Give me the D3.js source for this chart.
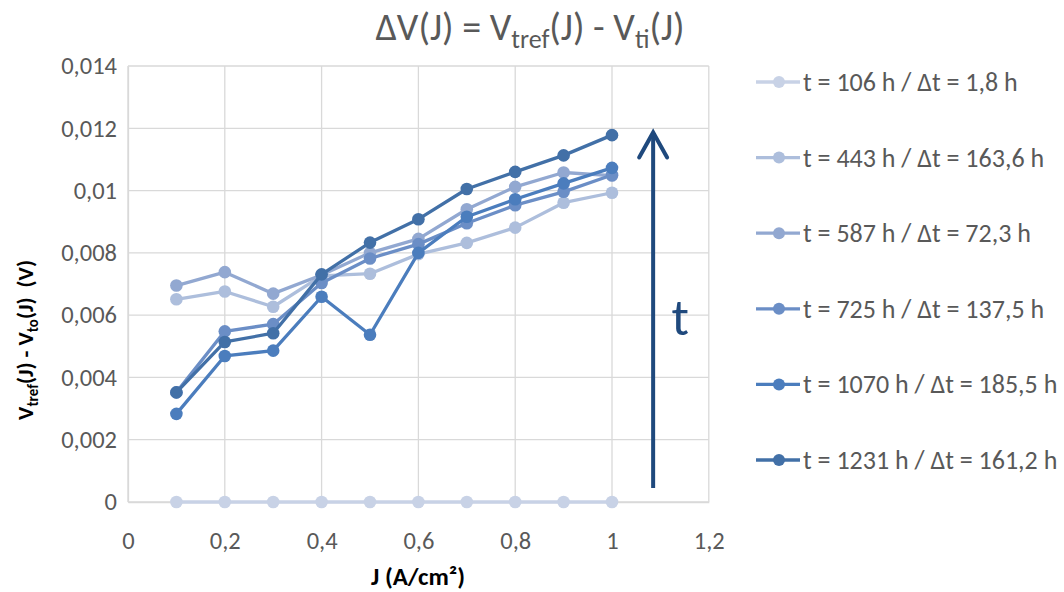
<!DOCTYPE html>
<html><head><meta charset="utf-8">
<script src="https://cdn.jsdelivr.net/npm/d3@7"></script>
<style>body{margin:0;background:#fff;font-family:Calibri,Carlito,"Liberation Sans",Arial,sans-serif;}</style>
</head><body><svg id="c" width="1064" height="592"></svg>
<script>
const J = [0.1,0.2,0.3,0.4,0.5,0.6,0.7,0.8,0.9,1.0];
const seriesNames = ["t = 106 h / Δt = 1,8 h","t = 443 h / Δt = 163,6 h","t = 587 h / Δt = 72,3 h","t = 725 h / Δt = 137,5 h","t = 1070 h / Δt = 185,5 h","t = 1231 h / Δt = 161,2 h"];
const s106  = [0,0,0,0,0,0,0,0,0,0];
const s443  = [0.00651,0.00676,0.00627,0.00726,0.00733,0.00796,0.00832,0.00881,0.00961,0.00993];
const s587  = [0.00695,0.00738,0.00669,0.00729,0.00800,0.00845,0.00940,0.01012,0.01058,0.01048];
const s725  = [0.00352,0.00548,0.00571,0.00703,0.00782,0.00828,0.00895,0.00953,0.00996,0.01050];
const s1070 = [0.00283,0.00469,0.00486,0.00659,0.00537,0.00800,0.00916,0.00972,0.01023,0.01073];
const s1231 = [0.00352,0.00514,0.00542,0.00731,0.00833,0.00908,0.01005,0.01060,0.01113,0.01178];
const colors = ["#c8d2e6","#adbedc","#92a8d1","#6b8ec6","#4b7dbd","#4270a7"];
const xTicks = [0,0.2,0.4,0.6,0.8,1.0,1.2];
const yTicks = [0,0.002,0.004,0.006,0.008,0.01,0.012,0.014];
const allSeries = [s106,s443,s587,s725,s1070,s1231];

const FONT = "Calibri,Carlito,'Liberation Sans',sans-serif";
const svg = d3.select("#c");
const x = d3.scaleLinear().domain([0,1.2]).range([128,708.8]);
const y = d3.scaleLinear().domain([0,0.014]).range([502,66]);
const fmt = v => String(+v.toFixed(3)).replace(".",",");

// grid
svg.append("g").selectAll("line").data(yTicks).join("line")
  .attr("x1",x(0)).attr("x2",x(1.2)).attr("y1",d=>y(d)).attr("y2",d=>y(d))
  .attr("stroke","#d9d9d9").attr("stroke-width",1.3);
svg.append("g").selectAll("line").data(xTicks).join("line")
  .attr("y1",y(0)).attr("y2",y(0.014)).attr("x1",d=>x(d)).attr("x2",d=>x(d))
  .attr("stroke","#d9d9d9").attr("stroke-width",1.3);

// axes
const xa = svg.append("g").attr("transform",`translate(0,${y(0)})`)
  .call(d3.axisBottom(x).tickValues(xTicks).tickFormat(fmt).tickSize(0).tickPadding(30));
xa.select(".domain").attr("stroke","#d9d9d9").attr("stroke-width",1.3);
xa.selectAll("text").attr("font-size",24.5).attr("fill","#595959").style("font-family",FONT);
const ya = svg.append("g").attr("transform",`translate(${x(0)},0)`)
  .call(d3.axisLeft(y).tickValues(yTicks).tickFormat(fmt).tickSize(0).tickPadding(11));
ya.select(".domain").attr("stroke","#d9d9d9").attr("stroke-width",1.3);
ya.selectAll("text").attr("font-size",24.5).attr("fill","#595959").style("font-family",FONT);

// series
const line = d3.line().x((d,i)=>x(J[i])).y(d=>y(d));
allSeries.forEach((s,k)=>{
  const g = svg.append("g");
  g.append("path").datum(s).attr("d",line).attr("fill","none").attr("stroke",colors[k]).attr("stroke-width",3.3).attr("stroke-linejoin","round");
  g.selectAll("circle").data(s).join("circle").attr("cx",(d,i)=>x(J[i])).attr("cy",d=>y(d)).attr("r",6.3).attr("fill",colors[k]);
});

// arrow
const arrowX = x(1.085);
const tipY = y(0.0119);
svg.append("line").attr("x1",arrowX).attr("x2",arrowX).attr("y1",y(0.00045)).attr("y2",tipY+2)
  .attr("stroke","#1f497d").attr("stroke-width",4);
svg.append("path").attr("d",`M${arrowX-14},${tipY+26} L${arrowX},${tipY+1} L${arrowX+14},${tipY+26}`)
  .attr("fill","none").attr("stroke","#1f497d").attr("stroke-width",4).attr("stroke-linecap","round").attr("stroke-linejoin","miter");
svg.append("text").attr("x",arrowX+27).attr("y",y(0.00535)).attr("text-anchor","middle")
  .attr("font-size",52).attr("fill","#1f497d").text("t");

// title
const title = svg.append("text").attr("x",530).attr("y",40).attr("text-anchor","middle").attr("font-size",38).attr("fill","#595959");
title.append("tspan").text("ΔV(J) = V");
title.append("tspan").attr("font-size",26).attr("dy",8).text("tref");
title.append("tspan").attr("dy",-8).text("(J) - V");
title.append("tspan").attr("font-size",26).attr("dy",8).text("ti");
title.append("tspan").attr("dy",-8).text("(J)");

// axis titles
svg.append("text").attr("x",418).attr("y",585).attr("text-anchor","middle").attr("font-size",25).attr("font-weight","bold").attr("fill","#000").text("J (A/cm²)");
const yt = svg.append("text").attr("transform","translate(33,340) rotate(-90)").attr("text-anchor","middle").attr("font-size",22.5).attr("font-weight","bold").attr("fill","#000");
yt.append("tspan").text("V");
yt.append("tspan").attr("font-size",15).attr("dy",5).text("tref");
yt.append("tspan").attr("dy",-5).text("(J) - V");
yt.append("tspan").attr("font-size",15).attr("dy",5).text("to");
yt.append("tspan").attr("dy",-5).text("(J)\u00a0\u00a0(V)");

// legend
const legY = d3.scaleLinear().domain([0,5]).range([82,460]);
const leg = svg.append("g").selectAll("g").data(seriesNames).join("g").attr("transform",(d,i)=>`translate(0,${legY(i)})`);
leg.append("line").attr("x1",756).attr("x2",800).attr("stroke",(d,i)=>colors[i]).attr("stroke-width",3.3);
leg.append("circle").attr("cx",779).attr("r",6).attr("fill",(d,i)=>colors[i]);
leg.append("text").attr("x",803).attr("y",9).attr("font-size",26).attr("fill","#595959").text(d=>d);
</script></body></html>
